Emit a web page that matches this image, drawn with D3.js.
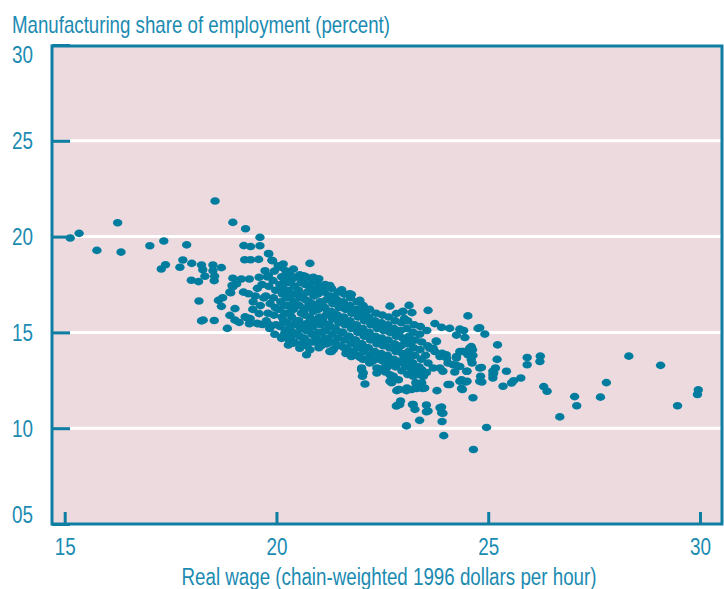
<!DOCTYPE html>
<html>
<head>
<meta charset="utf-8">
<script src="https://cdn.jsdelivr.net/npm/d3@7"></script>
<style>
  body { margin: 0; background: #fff; }
  svg text { font-family: "Liberation Sans Narrow", "Arial Narrow", "Liberation Sans", sans-serif; fill: #1b8bb2; }
</style>
</head>
<body>
<svg id="chart" width="724" height="589"></svg>
<script>
// [real wage, manufacturing share]
const lowWage = [
  [15.13, 19.93], [15.34, 20.17], [15.76, 19.28], [16.25, 20.72], [16.33, 19.19], [17.01, 19.52],
  [17.34, 19.77], [17.28, 18.31], [17.38, 18.53], [17.72, 18.40], [17.79, 18.78], [17.88, 19.57],
  [18.0, 18.60], [17.99, 17.72], [18.16, 17.65], [18.17, 16.64], [18.23, 18.52], [18.26, 18.27],
  [18.31, 17.93], [18.23, 15.60], [18.27, 15.64], [18.50, 18.52], [18.50, 18.22], [18.54, 17.93],
  [18.53, 17.70], [18.53, 15.62], [18.55, 21.86], [18.70, 18.38], [18.70, 16.36], [18.63, 16.67],
  [18.73, 16.81], [18.84, 15.21], [18.92, 17.07], [18.90, 15.89], [18.97, 17.83], [18.97, 17.38],
  [18.97, 20.74], [18.95, 17.45], [18.90, 17.10], [19.02, 16.24]
];

const midWage = [
  [19.02, 15.64], [19.12, 15.52], [19.17, 17.79], [19.06, 17.53], [19.22, 17.10], [19.27, 20.41],
  [19.23, 19.53], [19.39, 19.48], [19.25, 18.79], [19.39, 18.79], [19.30, 15.76], [19.36, 15.45],
  [19.36, 17.79], [19.34, 17.02], [19.26, 15.81], [19.38, 15.72], [19.59, 15.98], [19.57, 15.45],
  [19.67, 15.41], [19.54, 15.47], [19.59, 17.88], [19.61, 19.96], [19.61, 19.52], [19.58, 18.81],
  [19.73, 18.22], [19.81, 17.96], [19.82, 19.10], [19.89, 18.76], [19.81, 19.12], [19.91, 18.74],
  [20.04, 18.48], [20.16, 18.57], [20.22, 18.22], [19.85, 15.38], [20.79, 18.60], [19.45, 16.6],
  [19.5, 16.9], [19.62, 16.4], [19.55, 17.3], [19.7, 16.8], [19.66, 17.5], [19.44, 16.2]
];

const core = [
  [19.78, 17.9], [19.82, 17.4], [19.75, 16.9], [19.85, 16.5], [19.8, 16.0], [19.76, 15.6], [19.84, 15.2],
  [19.95, 18.2], [19.92, 17.7], [19.98, 17.2], [19.93, 16.8], [19.97, 16.3], [19.94, 15.9], [19.99, 15.4], [19.96, 14.9],
  [20.1, 18.4], [20.12, 17.9], [20.08, 17.5], [20.14, 17.0], [20.1, 16.6], [20.06, 16.2], [20.13, 15.8], [20.09, 15.3], [20.15, 14.8],
  [20.25, 18.1], [20.22, 17.6], [20.28, 17.2], [20.24, 16.8], [20.27, 16.4], [20.2, 16.0], [20.26, 15.5], [20.23, 15.1], [20.3, 14.6],
  [20.4, 18.3], [20.38, 17.8], [20.43, 17.4], [20.37, 17.0], [20.42, 16.6], [20.4, 16.2], [20.36, 15.8], [20.44, 15.4], [20.39, 15.0], [20.42, 14.5],
  [20.55, 18.0], [20.58, 17.6], [20.52, 17.2], [20.56, 16.8], [20.54, 16.4], [20.59, 16.0], [20.53, 15.6], [20.57, 15.2], [20.55, 14.8], [20.6, 14.4],
  [20.7, 17.9], [20.68, 17.5], [20.73, 17.1], [20.69, 16.7], [20.72, 16.3], [20.67, 15.9], [20.74, 15.5], [20.7, 15.1], [20.66, 14.7], [20.72, 14.3],
  [20.85, 17.7], [20.83, 17.3], [20.88, 16.9], [20.84, 16.5], [20.87, 16.1], [20.82, 15.7], [20.86, 15.3], [20.84, 14.9], [20.89, 14.5],
  [21.0, 17.8], [21.02, 17.4], [20.98, 17.0], [21.03, 16.6], [20.99, 16.2], [21.01, 15.8], [21.04, 15.4], [20.97, 15.0], [21.02, 14.6], [21.0, 14.2],
  [21.15, 17.5], [21.13, 17.1], [21.18, 16.7], [21.14, 16.3], [21.17, 15.9], [21.12, 15.5], [21.16, 15.1], [21.14, 14.7], [21.19, 14.4],
  [21.3, 17.3], [21.28, 16.9], [21.33, 16.5], [21.29, 16.1], [21.32, 15.7], [21.27, 15.3], [21.31, 14.9], [21.3, 14.5], [21.34, 14.1],
  [21.45, 17.1], [21.43, 16.7], [21.48, 16.3], [21.44, 15.9], [21.47, 15.5], [21.42, 15.1], [21.46, 14.7], [21.44, 14.3],
  [21.6, 17.0], [21.58, 16.6], [21.63, 16.2], [21.59, 15.8], [21.62, 15.4], [21.57, 15.0], [21.61, 14.6], [21.6, 14.2], [21.64, 13.9],
  [21.75, 16.8], [21.73, 16.4], [21.78, 16.0], [21.74, 15.6], [21.77, 15.2], [21.72, 14.8], [21.76, 14.4], [21.74, 14.0],
  [21.9, 16.6], [21.88, 16.2], [21.93, 15.8], [21.89, 15.4], [21.92, 15.0], [21.87, 14.6], [21.91, 14.2], [21.9, 13.8],
  [22.05, 16.4], [22.03, 16.0], [22.08, 15.6], [22.04, 15.2], [22.07, 14.8], [22.02, 14.4], [22.06, 14.0], [22.04, 13.6],
  [22.2, 16.2], [22.18, 15.8], [22.23, 15.4], [22.19, 15.0], [22.22, 14.6], [22.17, 14.2], [22.21, 13.8], [22.2, 13.4],
  [22.35, 16.0], [22.33, 15.6], [22.38, 15.2], [22.34, 14.8], [22.37, 14.4], [22.32, 14.0], [22.36, 13.6],
  [22.5, 15.9], [22.48, 15.5], [22.53, 15.1], [22.49, 14.7], [22.52, 14.3], [22.47, 13.9], [22.51, 13.5], [22.5, 13.1],
  [22.65, 15.8], [22.63, 15.4], [22.68, 15.0], [22.64, 14.6], [22.67, 14.2], [22.62, 13.8], [22.66, 13.4],
  [22.8, 15.6], [22.78, 15.2], [22.83, 14.8], [22.79, 14.4], [22.82, 14.0], [22.77, 13.6], [22.81, 13.2],
  [22.95, 15.5], [22.93, 15.1], [22.98, 14.7], [22.94, 14.3], [22.97, 13.9], [22.92, 13.5], [22.96, 13.0],
  [23.1, 15.6], [23.08, 15.2], [23.13, 14.8], [23.09, 14.4], [23.12, 14.0], [23.07, 13.6], [23.11, 13.2], [23.1, 12.8],
  [23.25, 15.4], [23.23, 15.0], [23.28, 14.6], [23.24, 14.2], [23.27, 13.8], [23.22, 13.4], [23.26, 13.0],
  [23.4, 15.3], [23.38, 14.9], [23.43, 14.5], [23.39, 14.1], [23.42, 13.6], [23.37, 13.2],
  [23.55, 15.1], [23.57, 14.3], [23.52, 13.8], [23.58, 13.4], [23.54, 12.9]
];

// points sitting between the columns above, where the cloud is thickest
const coreFill = [
  [20.18, 17.8], [20.16, 17.3], [20.19, 16.4], [20.17, 15.6], [20.2, 15.0],
  [20.33, 17.6], [20.31, 16.8], [20.34, 16.1], [20.32, 15.3], [20.35, 14.8],
  [20.48, 17.9], [20.46, 17.0], [20.49, 16.4], [20.47, 15.6], [20.5, 14.9],
  [20.63, 17.7], [20.61, 16.9], [20.64, 16.1], [20.62, 15.4], [20.65, 14.6],
  [20.78, 17.4], [20.76, 16.6], [20.79, 15.8], [20.77, 15.2], [20.8, 14.5],
  [20.93, 17.2], [20.91, 16.4], [20.94, 15.6], [20.92, 14.8],
  [21.08, 17.3], [21.06, 16.5], [21.09, 15.7], [21.07, 15.0], [21.1, 14.4],
  [21.23, 16.9], [21.21, 16.1], [21.24, 15.4], [21.22, 14.6],
  [21.38, 16.8], [21.36, 16.0], [21.39, 15.2], [21.37, 14.5],
  [21.53, 16.5], [21.51, 15.7], [21.54, 15.0], [21.52, 14.3],
  [21.68, 16.3], [21.66, 15.5], [21.69, 14.8], [21.67, 14.1],
  [21.83, 16.1], [21.81, 15.3], [21.84, 14.6], [21.82, 14.0],
  [21.98, 15.9], [21.96, 15.1], [21.99, 14.4], [21.97, 13.7],
  [22.13, 15.7], [22.11, 14.9], [22.14, 14.2], [22.12, 13.6],
  [22.28, 15.5], [22.26, 14.7], [22.29, 14.0], [22.27, 13.5],
  [22.43, 15.3], [22.41, 14.6], [22.44, 13.8],
  [22.58, 15.2], [22.56, 14.4], [22.59, 13.7],
  [22.73, 15.0], [22.71, 14.2], [22.74, 13.5],
  [22.88, 14.9], [22.86, 14.1], [22.89, 13.4],
  [23.03, 14.6], [23.01, 13.8], [23.04, 13.3],
  [23.18, 14.5], [23.16, 13.7], [23.19, 13.1]
];

const highWage = [
  [21.26, 17.45], [21.54, 17.22], [21.77, 16.98], [21.97, 16.67], [22.09, 16.07], [22.68, 16.37],
  [22.83, 15.98], [22.97, 16.07], [23.02, 15.72], [23.13, 16.41], [23.20, 16.03], [22.99, 16.10],
  [23.58, 16.15], [24.52, 15.86], [23.74, 15.46], [23.90, 15.26], [24.09, 15.21], [24.33, 15.17],
  [24.42, 15.10], [24.76, 15.21], [24.80, 15.24], [24.92, 14.91], [24.25, 14.86], [24.45, 14.73],
  [25.22, 14.35], [23.78, 14.52], [23.70, 14.17], [23.86, 13.74], [24.01, 13.83], [24.33, 14.00],
  [24.56, 14.17], [24.64, 13.80], [24.80, 13.14], [25.11, 12.97], [24.25, 13.66], [24.17, 13.31],
  [23.93, 12.97], [24.49, 12.97], [24.80, 12.45], [24.05, 12.28], [24.37, 12.07], [24.64, 11.59],
  [24.96, 10.04], [23.79, 11.96], [22.01, 13.05], [22.03, 12.71], [22.09, 12.31], [22.91, 11.24],
  [22.83, 11.16], [23.23, 11.24], [23.27, 10.98], [23.54, 11.21], [23.54, 10.86], [23.38, 10.41],
  [23.07, 10.12], [23.86, 11.07], [23.93, 10.78], [23.91, 10.35], [23.95, 9.61], [24.65, 8.89],
  [22.90, 12.02], [23.07, 11.96], [23.31, 12.07], [23.45, 12.07], [23.29, 12.37], [23.43, 12.37],
  [23.47, 12.71], [22.76, 12.71], [22.72, 12.37], [22.37, 12.88], [22.60, 13.14], [20.55, 14.17],
  [20.71, 13.83], [20.79, 14.09], [21.06, 14.31], [21.26, 14.00], [20.12, 14.69], [20.28, 14.34],
  [20.40, 14.43], [24.60, 14.26], [24.63, 14.09], [24.52, 13.83], [24.39, 14.00], [25.21, 13.59],
  [25.17, 13.14], [25.13, 12.88], [25.11, 12.62], [25.43, 12.97], [25.35, 12.19], [25.55, 12.36],
  [25.60, 12.48], [25.77, 12.62], [25.92, 13.69], [25.92, 13.31], [26.23, 13.76], [26.22, 13.48],
  [26.31, 12.17], [26.39, 11.93], [26.69, 10.59], [27.04, 11.65], [27.09, 11.17], [27.65, 11.62],
  [27.79, 12.38], [28.32, 13.76], [29.07, 13.28], [29.47, 11.17], [29.96, 12.0], [29.94, 11.76],
  [24.85, 12.41], [24.47, 12.41], [24.39, 12.02], [24.33, 12.45], [24.84, 13.17], [24.50, 12.97],
  [24.62, 13.40], [24.33, 13.22], [23.77, 14.55], [23.62, 14.17], [23.74, 14.0], [23.91, 13.91],
  [24.02, 13.66], [24.25, 13.74], [24.41, 14.0], [24.60, 14.21], [24.60, 13.57], [24.25, 13.28],
  [24.05, 13.40], [23.86, 13.14], [23.70, 13.14], [24.82, 12.71], [24.37, 12.53], [24.50, 12.45],
  [24.09, 12.28], [23.08, 12.10], [23.23, 12.71], [23.47, 12.10], [23.31, 12.28], [22.68, 12.45],
  [22.88, 12.02], [22.57, 12.93], [22.68, 12.79], [22.88, 12.53], [22.84, 11.96], [23.19, 12.02],
  [23.50, 12.10], [23.38, 12.79], [23.43, 13.05], [24.21, 12.93], [25.11, 12.79], [22.93, 11.42],
  [22.85, 11.19], [23.21, 11.24], [23.58, 10.90], [23.9, 11.1], [23.9, 10.8], [22.05, 12.88],
  [22.37, 13.14], [22.60, 13.31], [21.30, 14.0], [21.66, 13.97], [21.77, 13.74], [22.01, 13.14],
  [20.32, 18.0], [20.64, 17.96], [20.87, 17.88], [20.95, 17.62], [21.73, 17.02], [22.01, 16.28],
  [22.09, 15.98]
];

const yTicks = [5, 10, 15, 20, 25, 30];
const yGrid = [10, 15, 20, 25];
const xTicks = [15, 20, 25, 30];
const yTitle = 'Manufacturing share of employment (percent)';
const xTitle = 'Real wage (chain-weighted 1996 dollars per hour)';

const width = 724;
const height = 589;
const margin = {top: 46, right: 2, bottom: 65, left: 52};
const teal = '#0e7ea2';
const dotColor = '#007c9f';

const svg = d3.select('#chart');

const x = d3.scaleLinear().domain([14.7, 30.52]).range([margin.left, width - margin.right]);
const y = d3.scaleLinear().domain([5, 30]).range([height - margin.bottom, margin.top - 1]);

// plot background
svg.append('rect')
  .attr('x', margin.left).attr('y', margin.top)
  .attr('width', width - margin.right - margin.left)
  .attr('height', height - margin.bottom - margin.top)
  .attr('fill', '#ecdade');

// white grid lines, starting after the tick stub
svg.append('g').selectAll('line')
  .data(yGrid)
  .enter().append('line')
  .attr('x1', margin.left + 18).attr('x2', width - margin.right)
  .attr('y1', d => y(d)).attr('y2', d => y(d))
  .attr('stroke', '#fff').attr('stroke-width', 3);

const allPoints = lowWage.concat(midWage, core, coreFill, highWage);

svg.append('g').selectAll('ellipse')
  .data(allPoints)
  .enter().append('ellipse')
  .attr('cx', d => x(d[0]))
  .attr('cy', d => y(d[1]))
  .attr('rx', 4.7).attr('ry', 3.8)
  .attr('fill', dotColor);

// frame
svg.append('rect')
  .attr('x', margin.left).attr('y', margin.top)
  .attr('width', width - margin.right - margin.left)
  .attr('height', height - margin.bottom - margin.top)
  .attr('fill', 'none').attr('stroke', teal).attr('stroke-width', 3);

// no condensed face installed, so squeeze the glyphs to the original widths
const squeeze = (sel, w) => sel.attr('textLength', w).attr('lengthAdjust', 'spacingAndGlyphs');

const yAxis = svg.append('g')
  .attr('transform', `translate(${margin.left},0)`)
  .call(d3.axisLeft(y).tickValues(yTicks).tickSize(-18).tickPadding(19).tickFormat(d3.format('02d')));
yAxis.select('.domain').remove();
yAxis.selectAll('line').attr('stroke', teal).attr('stroke-width', 3);
yAxis.selectAll('text')
  .attr('font-size', 23)
  .attr('dy', d => d === 30 ? '0.75em' : d === 5 ? '-0.08em' : '0.34em')
  .call(squeeze, 21);

const xAxis = svg.append('g')
  .attr('transform', `translate(0,${height - margin.bottom})`)
  .call(d3.axisBottom(x).tickValues(xTicks).tickSize(-12).tickPadding(15));
xAxis.select('.domain').remove();
xAxis.selectAll('line').attr('stroke', teal).attr('stroke-width', 3);
xAxis.selectAll('text').attr('font-size', 23).call(squeeze, 21);

svg.append('text')
  .attr('x', 12).attr('y', 33)
  .attr('font-size', 24)
  .call(squeeze, 378)
  .text(yTitle);

svg.append('text')
  .attr('x', 389).attr('y', 585)
  .attr('text-anchor', 'middle')
  .attr('font-size', 23)
  .call(squeeze, 415)
  .text(xTitle);
</script>
</body>
</html>
